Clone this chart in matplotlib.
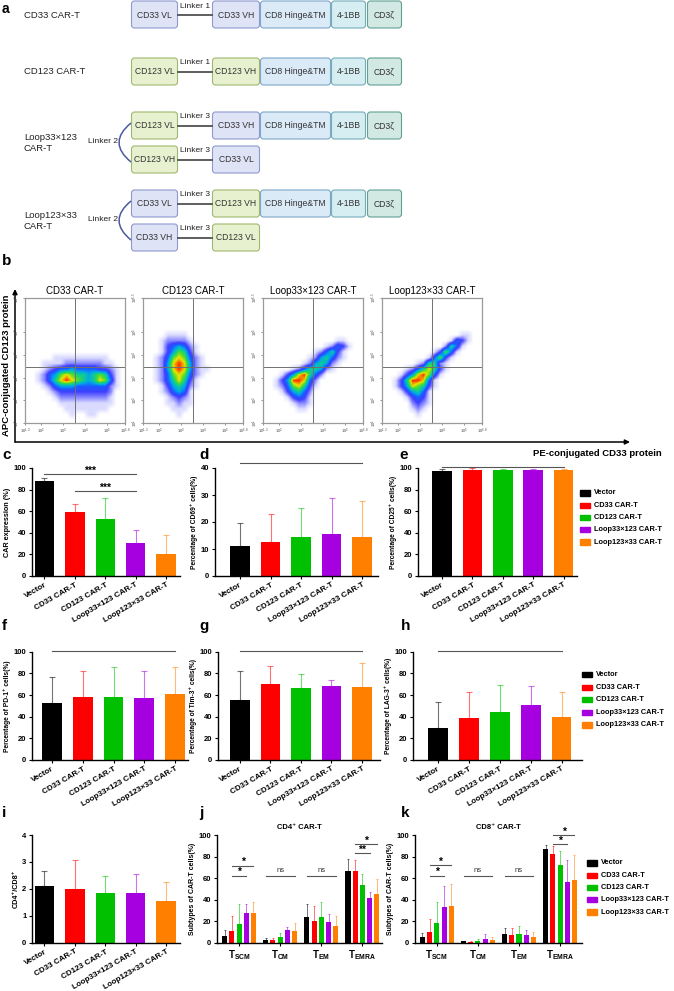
import numpy as np
import matplotlib
matplotlib.use('Agg')
import matplotlib.pyplot as plt
from matplotlib.patches import FancyBboxPatch, Rectangle, PathPatch
from matplotlib.path import Path
from matplotlib.colors import LinearSegmentedColormap

plt.rcParams['font.family'] = ['Liberation Sans', 'DejaVu Sans']
plt.rcParams['mathtext.fontset'] = 'custom'
plt.rcParams['mathtext.rm'] = 'Liberation Sans'
plt.rcParams['mathtext.bf'] = 'Liberation Sans:bold'

W, H = 674, 991

## DATA
groups = ['Vector', 'CD33 CAR-T', 'CD123 CAR-T', 'Loop33×123 CAR-T', 'Loop123×33 CAR-T']
bar_colors = ['#000000', '#ff0000', '#00c000', '#a600e0', '#ff8000']

# panel a: constructs
constructs = ['CD33 CAR-T', 'CD123 CAR-T', 'Loop33×123\nCAR-T', 'Loop123×33\nCAR-T']
domain_rows = [
    ['CD33 VL', 'CD33 VH', 'CD8 Hinge&TM', '4-1BB', 'CD3ζ'],
    ['CD123 VL', 'CD123 VH', 'CD8 Hinge&TM', '4-1BB', 'CD3ζ'],
    ['CD123 VL', 'CD33 VH', 'CD8 Hinge&TM', '4-1BB', 'CD3ζ'],
    ['CD123 VH', 'CD33 VL'],
    ['CD33 VL', 'CD123 VH', 'CD8 Hinge&TM', '4-1BB', 'CD3ζ'],
    ['CD33 VH', 'CD123 VL'],
]
linker_names = ['Linker 1', 'Linker 1', 'Linker 3', 'Linker 3', 'Linker 3', 'Linker 3']

# panel b: flow density (0.25 decade cells, top row first)
flow_titles = ['CD33 CAR-T', 'CD123 CAR-T', 'Loop33×123 CAR-T', 'Loop123×33 CAR-T']
flow_cd33 = ['0' * 18] * 10 + [
    "000001111111111000",
    "000111122222221100",
    "000123445444433210",
    "001245787665676310",
    "001246898765687410",
    "000124555444444210",
    "000012333333333200",
    "000001222222222100",
    "000000111111111100",
    "000000011111111000",
    "000000001001100000",
    "000000000000000000",
]
flow_cd123 = ['0' * 18] * 6 + [
    "000011110000000000",
    "000122221000000000",
    "000134542100000000",
    "000135763100000000",
    "001247874210000000",
    "001258985210000000",
    "001258985211000000",
    "001247874210000000",
    "001246863100000000",
    "000135652100000000",
    "000124541000000000",
    "000012321000000000",
    "000011211000000000",
    "000001110000000000",
    "000000100000000000",
    "000000000000000000",
]
flow_loop33 = ['0' * 18] * 7 + [
    "000000000000011000",
    "000000000001243100",
    "000000000124631000",
    "000000001256421000",
    "000000012565210000",
    "000001246652100000",
    "000135896420000000",
    "001359984200000000",
    "001247863100000000",
    "000135642000000000",
    "000013431000000000",
    "000001221000000000",
    "000000110000000000",
    "000000000000000000",
    "000000000000000000",
]
flow_loop123 = ['0' * 18] * 6 + [
    "000000000000001100",
    "000000000000143100",
    "000000000002641000",
    "000000000137410000",
    "000000001473100000",
    "000000126621000000",
    "000012468631000000",
    "000135897410000000",
    "001369984100000000",
    "001358763100000000",
    "000135641000000000",
    "000013431000000000",
    "000002321000000000",
    "000001210000000000",
    "000000100000000000",
    "000000000000000000",
]
flow_grids = [flow_cd33, flow_cd123, flow_loop33, flow_loop123]
flow_xticks = [1.3, 2, 3, 4, 5, 5.8]
flow_yticks = [1, 2, 3, 4, 5, 6.5]

# bar panels: mean and SD
car_mean = [88.0, 59.0, 52.5, 30.3, 20.4]
car_sd = [2.5, 7.6, 20.0, 12.0, 17.3]
cd69_mean = [11.1, 12.6, 14.4, 15.5, 14.6]
cd69_sd = [8.4, 10.2, 10.7, 13.3, 13.2]
cd25_mean = [97.3, 98.3, 98.0, 98.0, 98.0]
cd25_sd = [1.5, 1.3, 1.5, 1.0, 1.2]
pd1_mean = [52.5, 58.3, 58.3, 57.0, 61.0]
pd1_sd = [24.0, 24.3, 28.0, 25.0, 24.5]
tim3_mean = [55.6, 70.4, 66.3, 68.5, 67.3]
tim3_sd = [26.2, 16.0, 13.0, 5.0, 22.2]
lag3_mean = [29.3, 38.5, 44.6, 50.8, 40.0]
lag3_sd = [24.0, 24.5, 24.4, 17.5, 23.0]
ratio_mean = [2.09, 2.00, 1.83, 1.83, 1.55]
ratio_sd = [0.58, 1.07, 0.66, 0.74, 0.72]

subsets = ['SCM', 'CM', 'EM', 'EMRA']
cd4_mean = [[6.2, 10.8, 17.0, 27.6, 27.9],
            [2.5, 2.5, 5.3, 11.8, 10.5],
            [23.5, 20.1, 23.8, 19.2, 15.5],
            [66.9, 66.3, 53.3, 41.8, 45.5]]
cd4_sd = [[5.3, 14.3, 18.9, 8.3, 10.1],
          [2.1, 2.1, 3.4, 2.8, 7.8],
          [12.1, 13.9, 13.7, 7.1, 9.6],
          [10.5, 10.2, 10.2, 4.9, 13.3]]
cd8_mean = [[5.0, 9.6, 18.0, 33.4, 34.0],
            [1.2, 0.9, 1.9, 3.7, 2.5],
            [7.7, 7.1, 8.4, 6.8, 5.0],
            [86.7, 82.0, 71.8, 56.0, 58.5]]
cd8_sd = [[3.7, 12.1, 19.5, 19.2, 20.5],
          [0.7, 0.6, 1.5, 4.0, 2.8],
          [6.2, 6.2, 7.1, 5.0, 4.6],
          [4.0, 7.8, 13.3, 20.8, 22.9]]

# significance marks: (first bar, last bar, height, text)
car_sig = [(0, 3, 94.5, '***'), (1, 3, 78.7, '***')]
cd4_sig = [(0, 1, 4, 71.5, '*'), (0, 1, 3, 62.2, '*'), (1, 0, 4, 62.2, 'ns'),
           (2, 0, 4, 62.2, 'ns'), (3, 1, 4, 91.6, '*'), (3, 1, 3, 83.0, '**')]
cd8_sig = [(0, 1, 4, 72.1, '*'), (0, 1, 3, 62.2, '*'), (1, 0, 4, 62.2, 'ns'),
           (2, 0, 4, 62.2, 'ns'), (3, 1, 4, 100.0, '*'), (3, 1, 3, 91.6, '*')]

## FIGURE
fig = plt.figure(figsize=(W / 100, H / 100), dpi=100)
bg = fig.add_axes([0, 0, 1, 1])
bg.set_xlim(0, W)
bg.set_ylim(H, 0)
bg.axis('off')


def px_axes(l, t, r, b):
    ax = fig.add_axes([l / W, 1 - b / H, (r - l) / W, (b - t) / H])
    ax.set_facecolor('none')
    return ax


def letter(x, y, s, size=11):
    bg.text(x, y, s, fontsize=size, fontweight='bold', ha='left', va='center')


## PANEL a
letter(2, 9, 'a', 10)
fills = {'CD33 VL': ('#dfe3f6', '#8d99cf'), 'CD33 VH': ('#dfe3f6', '#8d99cf'),
         'CD123 VL': ('#e8f1cf', '#9fb86e'), 'CD123 VH': ('#e8f1cf', '#9fb86e'),
         'CD8 Hinge&TM': ('#dbeaf7', '#7fa6c9'), '4-1BB': ('#d6edf2', '#74adba'),
         'CD3ζ': ('#d2e9e3', '#62a093')}
row_top = [1, 58, 112, 146, 190, 224]
slot_x = [(131, 178), (212, 260), (260, 331), (331, 366), (367, 402)]
box_h = 27
for r, doms in enumerate(domain_rows):
    y0 = row_top[r]
    bg.plot([slot_x[0][1], slot_x[1][0]], [y0 + box_h / 2] * 2, color='#333333', lw=1.1)
    bg.text((slot_x[0][1] + slot_x[1][0]) / 2, y0 + 5, linker_names[r], fontsize=6,
            ha='center', va='center', color='#222222')
    for k, name in enumerate(doms):
        x0, x1 = slot_x[k]
        fc, ec = fills[name]
        bg.add_patch(FancyBboxPatch((x0 + 0.5, y0), x1 - x0 - 1, box_h,
                                    boxstyle='round,pad=0,rounding_size=3',
                                    fc=fc, ec=ec, lw=0.8))
        bg.text((x0 + x1) / 2, y0 + box_h / 2 + 0.5, name, fontsize=6.2,
                ha='center', va='center', color='#333333')

label_y = [15, 72, 143, 221]
for i, name in enumerate(constructs):
    bg.text(24, label_y[i], name, fontsize=6.8, ha='left', va='center',
            linespacing=1.25, color='#222222')
for top in (row_top[2], row_top[4]):
    p0 = (131, top + 11)
    p2 = (131, top + 50)
    path = Path([p0, (107, (p0[1] + p2[1]) / 2), p2], [Path.MOVETO, Path.CURVE3, Path.CURVE3])
    bg.add_patch(PathPatch(path, fc='none', ec='#4a5a9c', lw=1.1))
    bg.text(103, top + 29.5, 'Linker 2', fontsize=6, ha='center', va='center', color='#222222')

## PANEL b
letter(2, 261, 'b')
cmap = LinearSegmentedColormap.from_list('flow', [
    (0.0, '#ffffff'), (0.11, '#dadaff'), (0.22, '#8a8aff'), (0.33, '#4040ff'),
    (0.44, '#1a5cff'), (0.55, '#00a8e8'), (0.66, '#10cc90'), (0.77, '#50dc30'),
    (0.88, '#e6e600'), (1.0, '#ff3000')])
flow_left = [25, 143, 263, 382]
for i, grid in enumerate(flow_grids):
    ax = px_axes(flow_left[i], 298, flow_left[i] + 100, 423)
    dens = np.array([[int(c) for c in row] for row in grid], dtype=float)
    ax.imshow(dens, extent=(1.3, 5.8, 1.0, 6.5), origin='upper', cmap=cmap,
              vmin=0, vmax=9, interpolation='bilinear', aspect='auto')
    ax.axvline(3.55, color='#707070', lw=0.7)
    ax.axhline(3.47, color='#707070', lw=0.7)
    ax.set_xlim(1.3, 5.8)
    ax.set_ylim(1.0, 6.5)
    for s in ax.spines.values():
        s.set_color('#9a9a9a')
        s.set_linewidth(0.9)
    ax.set_xticks(flow_xticks)
    ax.set_xticklabels(['$10^{%g}$' % v for v in flow_xticks])
    ax.set_yticks(flow_yticks)
    ax.set_yticklabels(['$10^{%g}$' % v for v in flow_yticks], rotation=90, va='center')
    ax.tick_params(labelsize=3, length=1.5, width=0.4, pad=1, colors='#444444')
    ax.set_title(flow_titles[i], fontsize=7, pad=3)

bg.annotate('', xy=(15, 289), xytext=(15, 442),
            arrowprops=dict(arrowstyle='-|>', lw=1.1, color='black', mutation_scale=7,
                            shrinkA=0, shrinkB=0))
bg.annotate('', xy=(630, 442), xytext=(15, 442),
            arrowprops=dict(arrowstyle='-|>', lw=1.1, color='black', mutation_scale=7,
                            shrinkA=0, shrinkB=0))
bg.text(7, 365, 'APC-conjugated CD123 protein', rotation=90, fontsize=6.8,
        fontweight='bold', ha='center', va='center')
bg.text(662, 453, 'PE-conjugated CD33 protein', fontsize=6.8, fontweight='bold',
        ha='right', va='center')


## BAR PANELS
def style_axes(ax):
    for s in ['top', 'right']:
        ax.spines[s].set_visible(False)
    for s in ['left', 'bottom']:
        ax.spines[s].set_linewidth(1.0)
    ax.tick_params(labelsize=5.5, width=0.8, length=2.5, pad=1.5)


def simple_bars(box, mean, sd, ymax, step, ylabel, xlim, lsize=4.8, cap=2.5):
    ax = px_axes(*box)
    style_axes(ax)
    x = np.arange(len(mean))
    ax.bar(x, mean, width=0.64, color=bar_colors, zorder=2)
    for i in range(len(mean)):
        ax.errorbar(x[i], mean[i], yerr=[[0], [sd[i]]], fmt='none', ecolor=bar_colors[i],
                    alpha=0.55, elinewidth=0.8, capsize=cap, capthick=0.8, zorder=3)
    ax.set_xlim(xlim)
    ax.set_ylim(0, ymax)
    ticks = np.arange(0, ymax + step / 2, step)
    ax.set_yticks(ticks)
    ax.set_yticklabels(['%g' % t for t in ticks], fontweight='bold')
    ax.set_xticks(x)
    ax.set_xticklabels(groups, rotation=30, ha='right', rotation_mode='anchor',
                       fontweight='bold', fontsize=5.8)
    ax.set_ylabel(ylabel, fontsize=lsize, fontweight='bold', labelpad=2)
    return ax


def sig_mark(ax, x1, x2, y, s):
    ax.plot([x1, x2], [y, y], color='#555555', lw=0.8, clip_on=False)
    if s == 'ns':
        ax.annotate('ns', ((x1 + x2) / 2, y), xytext=(0, 1), textcoords='offset points',
                    ha='center', va='bottom', fontsize=5.5, color='#333333')
    else:
        ax.annotate(s, ((x1 + x2) / 2, y), xytext=(0, 2.5), textcoords='offset points',
                    ha='center', va='center', fontsize=7.5, fontweight='bold')


# c
letter(2, 455, 'c')
ax_c = simple_bars((32, 468, 180, 576), car_mean, car_sd, 100, 20, 'CAR expression (%)',
                   (-0.41, 4.46), lsize=5.2)
for a, b, y, s in car_sig:
    sig_mark(ax_c, a, b, y, s)

# d
letter(199, 455, 'd')
ax_d = simple_bars((215, 468, 378, 576), cd69_mean, cd69_sd, 40, 10,
                   'Percentage of CD69⁺ cells(%)', (-0.82, 4.52))
sig_mark(ax_d, 0, 4, 41.8, 'ns')

# e
letter(399, 455, 'e')
ax_e = simple_bars((418, 468, 577, 576), cd25_mean, cd25_sd, 100, 20,
                   'Percentage of CD25⁺ cells(%)', (-0.79, 4.44))
sig_mark(ax_e, 0, 4, 100.6, 'ns')

# f
letter(2, 626, 'f')
ax_f = simple_bars((32, 651.7, 188, 760), pd1_mean, pd1_sd, 100, 20,
                   'Percentage of PD-1⁺ cells(%)', (-0.65, 4.42))
sig_mark(ax_f, 0, 4, 100.6, 'ns')

# g
letter(199, 626, 'g')
ax_g = simple_bars((218, 651.7, 380, 760), tim3_mean, tim3_sd, 100, 20,
                   'Percentage of Tim-3⁺ cells(%)', (-0.72, 4.59))
sig_mark(ax_g, 0, 4, 100.6, 'ns')

# h
letter(401, 626, 'h')
ax_h = simple_bars((413, 651.7, 582, 760), lag3_mean, lag3_sd, 100, 20,
                   'Percentage of LAG-3⁺ cells(%)', (-0.8, 4.66))
sig_mark(ax_h, 0, 4, 100.6, 'ns')

# i
letter(2, 813, 'i')
simple_bars((32, 835, 180, 942.7), ratio_mean, ratio_sd, 4, 1, 'CD4⁺/CD8⁺',
            (-0.41, 4.46), lsize=5.2)

# j, k grouped
group_gap = 5.7


def group_bars(box, mean, sd, title, xlim, sigs):
    ax = px_axes(*box)
    style_axes(ax)
    for g in range(len(subsets)):
        xs = g * group_gap + np.arange(5) - 2
        ax.bar(xs, mean[g], width=0.7, color=bar_colors, zorder=2)
        for b in range(5):
            ax.errorbar(xs[b], mean[g][b], yerr=[[0], [sd[g][b]]], fmt='none',
                        ecolor=bar_colors[b], alpha=0.55, elinewidth=0.7,
                        capsize=1.0, capthick=0.7, zorder=3)
    ax.set_xlim(xlim)
    ax.set_ylim(0, 100)
    ax.set_yticks(np.arange(0, 101, 20))
    ax.set_yticklabels(['%d' % t for t in range(0, 101, 20)], fontweight='bold')
    ax.set_xticks([g * group_gap for g in range(len(subsets))])
    ax.set_xticklabels([r'$\mathbf{T}_{\mathbf{%s}}$' % s for s in subsets], fontsize=7)
    ax.set_ylabel('Subtypes of CAR-T cells(%)', fontsize=5, fontweight='bold', labelpad=2)
    ax.set_title(title, fontsize=5.5, fontweight='bold', pad=4)
    for g, a, b, y, s in sigs:
        sig_mark(ax, g * group_gap + a - 2, g * group_gap + b - 2, y, s)
    return ax


letter(199, 813, 'j')
group_bars((216.7, 835, 381.7, 942.7), cd4_mean, cd4_sd, 'CD4⁺ CAR-T', (-3.1, 19.77), cd4_sig)
letter(401, 813, 'k')
group_bars((415, 835, 581.7, 942.7), cd8_mean, cd8_sd, 'CD8⁺ CAR-T', (-3.03, 20.1), cd8_sig)

## LEGENDS
for lx, ly, step in [(580, 493, 12.25), (582, 674.5, 12.6), (587, 863, 12.25)]:
    for i, name in enumerate(groups):
        y = ly + i * step
        bg.add_patch(Rectangle((lx, y - 2.6), 10, 5.2, color=bar_colors[i]))
        bg.text(lx + 14, y, name, fontsize=5.3, fontweight='bold', ha='left', va='center')

fig.savefig('out.png', dpi=100)
